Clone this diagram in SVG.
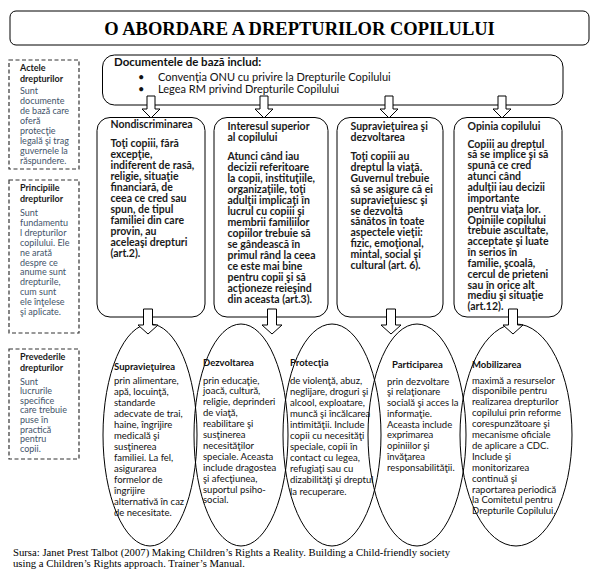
<svg xmlns="http://www.w3.org/2000/svg" width="595" height="569" viewBox="0 0 595 569">
<style>
.box{fill:#fff;stroke:#000;stroke-width:1}
.dash{fill:none;stroke:#333;stroke-width:1.2;stroke-dasharray:4 2.5}
.ell{fill:none;stroke:#000;stroke-width:1}
.arr{fill:#fff;stroke:#000;stroke-width:1}
.t{font-family:Lato,"Noto Sans",sans-serif;fill:#111}
.b{font-weight:bold}
.doc{font-size:11px}
.doch{font-size:11.5px;font-weight:bold}
.col{font-size:10.5px;font-weight:bold;fill:#1a1a1a}
.el{font-size:9.5px}
.lh{font-size:9px;font-weight:bold;fill:#1a1a1a}
.lt{font-size:9px;fill:#44546a}
.src{font-family:"Liberation Serif","Times New Roman",serif;font-size:10.7px;fill:#000}
</style>
<rect width="595" height="569" fill="#fff"/>

<g id="title">
<rect class="box" x="10" y="11" width="579" height="34" rx="6"/>
<text x="299.5" y="34.5" text-anchor="middle" style="font-family:'Liberation Serif','Times New Roman',serif;font-size:18.5px;font-weight:bold">O ABORDARE A DREPTURILOR COPILULUI</text>
</g>

<g id="documente">
<rect class="box" x="102.5" y="55" width="460.5" height="50" rx="12"/>
<text class="t doch" x="114" y="66">Documentele de bază includ:</text>
<text class="t doc" x="138" y="81">•</text>
<text class="t doc" x="158" y="81">Convenţia ONU cu privire la Drepturile Copilului</text>
<text class="t doc" x="138" y="93">•</text>
<text class="t doc" x="158" y="93">Legea RM privind Drepturile Copilului</text>
</g>

<g id="actele">
<rect class="dash" x="9" y="60" width="70" height="109"/>
<text class="t lh"><tspan x="20" y="70.5">Actele</tspan><tspan x="20" y="82">drepturilor</tspan></text>
<text class="t lt"><tspan x="20" y="94">Sunt</tspan><tspan x="20" y="104">documente</tspan><tspan x="20" y="114">de bază care</tspan><tspan x="20" y="124">oferă</tspan><tspan x="20" y="134">protecţie</tspan><tspan x="20" y="144">legală şi trag</tspan><tspan x="20" y="154">guvernele la</tspan><tspan x="20" y="164">răspundere.</tspan></text>
</g>

<g id="principiile">
<rect class="dash" x="9" y="180" width="70" height="153"/>
<text class="t lh"><tspan x="20" y="191">Principiile</tspan><tspan x="20" y="201.5">drepturilor</tspan></text>
<text class="t lt"><tspan x="20" y="216">Sunt</tspan><tspan x="20" y="225.9">fundamentu</tspan><tspan x="20" y="235.8">l drepturilor</tspan><tspan x="20" y="245.7">copilului. Ele</tspan><tspan x="20" y="255.6">ne arată</tspan><tspan x="20" y="265.5">despre ce</tspan><tspan x="20" y="275.4">anume sunt</tspan><tspan x="20" y="285.3">drepturile,</tspan><tspan x="20" y="295.2">cum sunt</tspan><tspan x="20" y="305.1">ele înţelese</tspan><tspan x="20" y="315">şi aplicate.</tspan></text>
</g>

<g id="prevederile">
<rect class="dash" x="9" y="349" width="70" height="110"/>
<text class="t lh"><tspan x="20" y="360">Prevederile</tspan><tspan x="20" y="370.5">drepturilor</tspan></text>
<text class="t lt"><tspan x="20" y="384.5">Sunt</tspan><tspan x="20" y="394.1">lucrurile</tspan><tspan x="20" y="403.7">specifice</tspan><tspan x="20" y="413.3">care trebuie</tspan><tspan x="20" y="422.9">puse în</tspan><tspan x="20" y="432.5">practică</tspan><tspan x="20" y="442.1">pentru</tspan><tspan x="20" y="451.7">copii.</tspan></text>
</g>

<g id="nondiscriminarea">
<rect class="box" x="97" y="117.5" width="108" height="199.5" rx="13"/>
<text class="t col"><tspan x="110.5" y="128">Nondiscriminarea</tspan></text>
<text class="t col"><tspan x="110.5" y="147">Toţi copiii, fără</tspan><tspan x="110.5" y="158">excepţie,</tspan><tspan x="110.5" y="169">indiferent de rasă,</tspan><tspan x="110.5" y="180">religie, situaţie</tspan><tspan x="110.5" y="191">financiară, de</tspan><tspan x="110.5" y="202">ceea ce cred sau</tspan><tspan x="110.5" y="213">spun, de tipul</tspan><tspan x="110.5" y="224">familiei din care</tspan><tspan x="110.5" y="235">provin, au</tspan><tspan x="110.5" y="246">aceleaşi drepturi</tspan><tspan x="110.5" y="257">(art.2).</tspan></text>
</g>

<g id="interesul">
<rect class="box" x="214" y="117.5" width="114" height="199.5" rx="13"/>
<text class="t col"><tspan x="227.5" y="130">Interesul superior</tspan><tspan x="227.5" y="141">al copilului</tspan></text>
<text class="t col"><tspan x="227.5" y="160">Atunci când iau</tspan><tspan x="227.5" y="171">decizii referitoare</tspan><tspan x="227.5" y="182">la copii, instituţiile,</tspan><tspan x="227.5" y="193">organizaţiile, toţi</tspan><tspan x="227.5" y="204">adulţii implicaţi în</tspan><tspan x="227.5" y="215">lucrul cu copiii şi</tspan><tspan x="227.5" y="226">membrii familiilor</tspan><tspan x="227.5" y="237">copiilor trebuie să</tspan><tspan x="227.5" y="248">se gândească în</tspan><tspan x="227.5" y="259">primul rând la ceea</tspan><tspan x="227.5" y="270">ce este mai bine</tspan><tspan x="227.5" y="281">pentru copii şi să</tspan><tspan x="227.5" y="292">acţioneze reieşind</tspan><tspan x="227.5" y="303">din aceasta (art.3).</tspan></text>
</g>

<g id="supravietuirea-dezvoltarea">
<rect class="box" x="337" y="117.5" width="106" height="199.5" rx="13"/>
<text class="t col"><tspan x="350.5" y="130">Supravieţuirea şi</tspan><tspan x="350.5" y="141">dezvoltarea</tspan></text>
<text class="t col"><tspan x="350.5" y="160">Toţi copiii au</tspan><tspan x="350.5" y="170.9">dreptul la viaţă.</tspan><tspan x="350.5" y="181.8">Guvernul trebuie</tspan><tspan x="350.5" y="192.7">să se asigure că ei</tspan><tspan x="350.5" y="203.6">supravieţuiesc şi</tspan><tspan x="350.5" y="214.5">se dezvoltă</tspan><tspan x="350.5" y="225.4">sănătos în toate</tspan><tspan x="350.5" y="236.3">aspectele vieţii:</tspan><tspan x="350.5" y="247.2">fizic, emoţional,</tspan><tspan x="350.5" y="258.1">mintal, social şi</tspan><tspan x="350.5" y="269">cultural (art. 6).</tspan></text>
</g>

<g id="opinia">
<rect class="box" x="454" y="117.5" width="108" height="199.5" rx="13"/>
<text class="t col"><tspan x="467.5" y="130">Opinia copilului</tspan></text>
<text class="t col"><tspan x="467.5" y="147.5">Copiii au dreptul</tspan><tspan x="467.5" y="158.4">să se implice şi să</tspan><tspan x="467.5" y="169.2">spună ce cred</tspan><tspan x="467.5" y="180.1">atunci când</tspan><tspan x="467.5" y="190.9">adulţii iau decizii</tspan><tspan x="467.5" y="201.8">importante</tspan><tspan x="467.5" y="212.6">pentru viaţa lor.</tspan><tspan x="467.5" y="223.5">Opiniile copilului</tspan><tspan x="467.5" y="234.3">trebuie ascultate,</tspan><tspan x="467.5" y="245.2">acceptate şi luate</tspan><tspan x="467.5" y="256">în serios în</tspan><tspan x="467.5" y="266.9">familie, şcoală,</tspan><tspan x="467.5" y="277.7">cercul de prieteni</tspan><tspan x="467.5" y="288.6">sau în orice alt</tspan><tspan x="467.5" y="299.4">mediu şi situaţie</tspan><tspan x="467.5" y="310.3">(art.12).</tspan></text>
</g>

<g id="supravietuirea">
<ellipse class="ell" cx="150" cy="435" rx="47" ry="111"/>
<text class="t el b" x="114" y="370">Supravieţuirea</text>
<text class="t el"><tspan x="114" y="383.5">prin alimentare,</tspan><tspan x="114" y="394.5">apă, locuinţă,</tspan><tspan x="114" y="405.5">standarde</tspan><tspan x="114" y="416.5">adecvate de trai,</tspan><tspan x="114" y="427.5">haine, îngrijire</tspan><tspan x="114" y="438.5">medicală şi</tspan><tspan x="114" y="449.5">susţinerea</tspan><tspan x="114" y="460.5">familiei. La fel,</tspan><tspan x="114" y="471.5">asigurarea</tspan><tspan x="114" y="482.5">formelor de</tspan><tspan x="114" y="493.5">îngrijire</tspan><tspan x="114" y="504.5">alternativă în caz</tspan><tspan x="114" y="515.5">de necesitate.</tspan></text>
</g>

<g id="dezvoltarea">
<ellipse class="ell" cx="241" cy="435" rx="47" ry="111"/>
<text class="t el b" x="203" y="366">Dezvoltarea</text>
<text class="t el"><tspan x="203" y="383.5">prin educaţie,</tspan><tspan x="203" y="394.4">joacă, cultură,</tspan><tspan x="203" y="405.3">religie, deprinderi</tspan><tspan x="203" y="416.2">de viaţă,</tspan><tspan x="203" y="427.1">reabilitare şi</tspan><tspan x="203" y="438">susţinerea</tspan><tspan x="203" y="448.9">necesităţilor</tspan><tspan x="203" y="459.8">speciale. Aceasta</tspan><tspan x="203" y="470.7">include dragostea</tspan><tspan x="203" y="481.6">şi afecţiunea,</tspan><tspan x="203" y="492.5">suportul psiho-</tspan><tspan x="203" y="503.4">social.</tspan></text>
</g>

<g id="protectia">
<ellipse class="ell" cx="332" cy="435" rx="49" ry="111"/>
<text class="t el b" x="290" y="366">Protecţia</text>
<text class="t el"><tspan x="290" y="383.5">de violenţă, abuz,</tspan><tspan x="290" y="394.6">neglijare, droguri şi</tspan><tspan x="290" y="405.7">alcool, exploatare,</tspan><tspan x="290" y="416.8">muncă şi încălcarea</tspan><tspan x="290" y="427.9">intimităţii. Include</tspan><tspan x="290" y="439">copii cu necesităţi</tspan><tspan x="290" y="450.1">speciale, copii în</tspan><tspan x="290" y="461.2">contact cu legea,</tspan><tspan x="290" y="472.3">refugiaţi sau cu</tspan><tspan x="290" y="483.4">dizabilităţi şi dreptul</tspan><tspan x="290" y="494.5">la recuperare.</tspan></text>
</g>

<g id="participarea">
<ellipse class="ell" cx="417" cy="435" rx="49" ry="111"/>
<text class="t el b" x="392" y="368">Participarea</text>
<text class="t el"><tspan x="387" y="384.5">prin dezvoltare</tspan><tspan x="387" y="395.3">şi relaţionare</tspan><tspan x="387" y="406">socială şi acces la</tspan><tspan x="387" y="416.8">informaţie.</tspan><tspan x="387" y="427.5">Aceasta include</tspan><tspan x="387" y="438.3">exprimarea</tspan><tspan x="387" y="449">opiniilor şi</tspan><tspan x="387" y="459.8">învăţarea</tspan><tspan x="387" y="470.5">responsabilităţii.</tspan></text>
</g>

<g id="mobilizarea">
<ellipse class="ell" cx="516" cy="435" rx="56" ry="111"/>
<text class="t el b" x="472" y="368">Mobilizarea</text>
<text class="t el"><tspan x="472" y="383.5">maximă a resurselor</tspan><tspan x="472" y="394.4">disponibile pentru</tspan><tspan x="472" y="405.3">realizarea drepturilor</tspan><tspan x="472" y="416.2">copilului prin reforme</tspan><tspan x="472" y="427.1">corespunzătoare şi</tspan><tspan x="472" y="438">mecanisme oficiale</tspan><tspan x="472" y="448.9">de aplicare a CDC.</tspan><tspan x="472" y="459.8">Include şi</tspan><tspan x="472" y="470.7">monitorizarea</tspan><tspan x="472" y="481.6">continuă şi</tspan><tspan x="472" y="492.5">raportarea periodică</tspan><tspan x="472" y="503.4">la Comitetul pentru</tspan><tspan x="472" y="514.3">Drepturile Copilului.</tspan></text>
</g>

<g id="connectors">
<path class="arr" d="M147,96 H155 V109 H160 L151,118 L142,109 H147 Z"/>
<path class="arr" d="M260,96 H268 V109 H273 L264,118 L255,109 H260 Z"/>
<path class="arr" d="M385,96 H393 V109 H398 L389,118 L380,109 H385 Z"/>
<path class="arr" d="M498,96 H506 V109 H511 L502,118 L493,109 H498 Z"/>
<path class="arr" d="M143.5,309 H152.5 V325 H158 L148,334 L138,325 H143.5 Z"/>
<path class="arr" d="M267.5,309 H276.5 V325 H282 L272,334 L262,325 H267.5 Z"/>
<path class="arr" d="M386.5,309 H395.5 V325 H401 L391,334 L381,325 H386.5 Z"/>
<path class="arr" d="M508.5,309 H517.5 V325 H523 L513,334 L503,325 H508.5 Z"/>
</g>

<g id="sursa">
<text class="src" x="13" y="556">Sursa: Janet Prest Talbot (2007) Making Children’s Rights a Reality. Building a Child-friendly society</text>
<text class="src" x="13" y="566.5">using a Children’s Rights approach. Trainer’s Manual.</text>
</g>
</svg>
